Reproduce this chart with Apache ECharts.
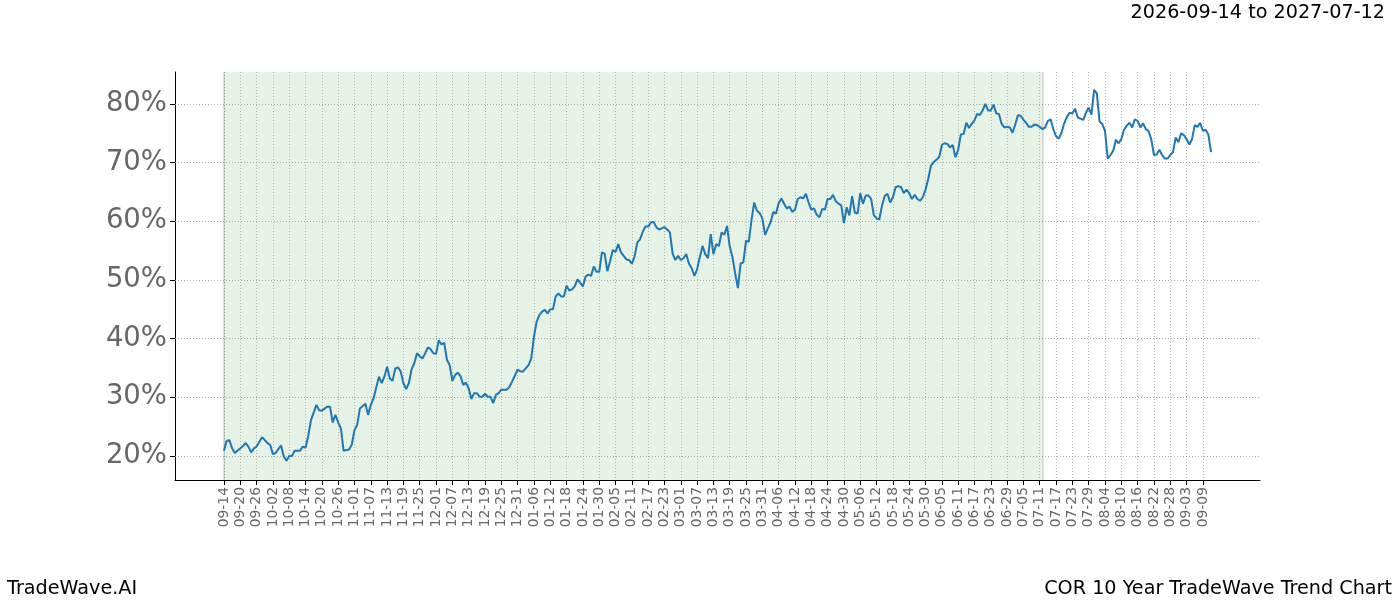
<!DOCTYPE html>
<html><head><meta charset="utf-8">
<script src="https://cdn.jsdelivr.net/npm/echarts@6/dist/echarts.min.js"></script>
<style>html,body{margin:0;padding:0;background:#fff}#c{width:1400px;height:600px}</style>
</head><body><div id="c"></div>
<script>
// ---- data ----
const startDate = '2026-09-14';
const shadeStart = '2026-09-14';
const shadeEnd = '2027-07-12';
const titleText = '2026-09-14 to 2027-07-12';
const footerLeft = 'TradeWave.AI';
const footerRight = 'COR 10 Year TradeWave Trend Chart';
const yTicks = [20, 30, 40, 50, 60, 70, 80];
// observation day offsets from startDate
const obsDay = [0,1,2,3,4,5,7,8,9,10,11,12,14,16,17,18,19,21,22,23,24,25,26,28,29,30,31,32,34,35,36,38,39,40,41,42,43,44,46,47,48,49,50,52,53,54,55,57,58,59,60,61,62,63,64,65,66,67,68,69,
70,71,72,73,74,75,76,77,78,79,80,81,82,83,84,85,86,87,88,89,90,91,92,93,94,95,96,97,98,99,100,101,102,104,105,106,108,109,110,112,113,114,115,116,117,118,119,120,121,122,123,124,125,126,127,128,129,130,131,132,133,134,135,136,137,138,139,
140,141,142,143,144,145,146,148,149,150,151,152,153,154,155,156,157,158,159,160,161,162,163,164,165,166,167,168,169,170,171,172,173,174,175,176,177,178,179,180,181,182,183,184,185,186,187,188,189,190,191,192,193,194,195,196,197,198,199,200,201,202,203,204,205,206,207,208,209,210,211,212,213,214,215,216,217,
218,219,220,221,222,223,224,225,226,227,228,229,230,231,232,233,234,235,236,237,238,239,240,241,242,243,244,245,246,247,248,249,250,251,252,253,254,255,256,257,258,259,260,261,262,263,264,265,266,267,268,269,270,271,272,273,274,275,276,277,278,279,280,281,282,283,284,285,
286,287,288,289,290,291,292,293,294,295,296,297,298,299,300,301,302,303,304,305,306,307,308,309,310,311,312,313,314,315,316,317,318,319,320,321,322,323,324,325,326,327,328,329,330,331,332,333,334,335,336,337,338,339,340,341,342,343,344,345,346,347,348,349,350,351,352,353,354,355,356,357,358,359,360,361,362,363];
// trend values in percent
const obsPct = [20.9,22.6,22.7,21.3,20.5,20.9,21.7,22.2,21.6,20.6,21.3,21.6,23.2,22.2,21.9,20.3,20.5,21.8,19.9,19.2,20.0,20.0,20.9,20.9,21.6,21.4,23.4,26.1,28.7,27.8,27.7,28.4,28.4,25.7,27.0,25.7,24.7,20.9,21.1,21.9,24.4,25.3,28.1,28.9,27.0,28.7,29.8,33.5,32.4,33.5,35.2,33.2,32.8,34.9,35.1,34.4,32.4,31.4,32.4,34.8,
35.8,37.5,37.0,36.6,37.5,38.5,38.2,37.5,37.4,39.7,39.0,39.3,36.4,35.5,32.8,33.8,34.2,33.6,32.1,32.5,31.5,29.7,30.7,30.7,30.1,30.1,30.6,30.1,30.1,29.0,30.4,30.7,31.3,31.3,31.8,32.7,34.7,34.4,34.4,35.5,36.6,40.3,42.9,44.0,44.6,44.9,44.3,45.0,45.0,47.2,47.7,47.2,47.2,49.0,48.2,48.4,48.9,50.1,49.5,48.9,50.6,50.9,50.7,52.3,51.4,51.4,54.7,
54.5,51.5,53.2,55.1,54.8,56.1,54.7,53.5,53.4,52.8,54.0,56.4,56.9,58.2,59.1,59.1,59.8,59.9,59.0,58.6,58.8,59.0,58.6,58.1,54.5,53.4,54.1,53.4,53.7,54.4,52.8,52.0,50.7,51.8,53.9,55.8,54.4,53.7,57.8,54.4,56.1,55.8,58.1,57.7,59.2,55.7,53.9,51.1,48.6,52.8,53.0,56.7,56.5,60.2,63.2,61.8,61.4,60.5,57.7,58.8,59.8,61.6,61.3,63.1,63.9,63.0,62.2,62.5,61.6,62.0,63.8,64.1,63.9,64.7,63.2,62.0,62.2,
61.1,60.7,62.1,62.0,63.8,63.8,64.5,63.4,63.0,62.7,59.7,62.4,61.0,64.3,61.5,61.3,64.8,63.0,64.4,64.4,63.8,61.0,60.5,60.3,62.7,64.3,64.7,63.2,64.1,65.8,66.0,65.8,64.8,65.4,64.8,63.8,64.5,63.8,63.5,64.1,65.4,67.2,69.5,70.1,70.5,70.9,73.0,73.3,73.2,72.6,73.0,70.9,72.2,74.8,74.9,76.8,75.9,76.6,77.2,78.3,78.1,78.9,80.0,78.9,78.9,79.9,78.4,78.3,
76.6,76.0,76.1,76.0,75.1,76.5,78.1,78.0,77.3,76.8,76.1,76.1,76.5,76.4,76.1,75.7,76.0,77.1,77.4,75.7,74.5,74.1,75.1,76.7,77.8,78.5,78.4,79.2,77.7,77.5,77.3,78.5,79.4,78.2,82.4,81.8,77.0,76.6,75.4,70.7,71.3,72.0,73.9,73.3,74.0,75.6,76.3,76.8,76.0,77.4,77.1,76.0,76.7,75.7,75.4,74.0,71.3,71.4,72.2,71.3,70.7,70.7,71.3,71.8,74.3,73.5,75.0,74.7,74.0,73.1,74.0,76.4,76.1,76.8,75.4,75.6,74.8,71.8];

// ---- build axis categories (calendar days) ----
const padDays = 18;
const lastDay = 363;
const labelStep = 6;
const labelLastDay = 360;
function dayToStr(d) {
  const t = Date.UTC(2026, 8, 14) + d * 86400000;
  const dt = new Date(t);
  const m = String(dt.getUTCMonth() + 1).padStart(2, '0');
  const dd = String(dt.getUTCDate()).padStart(2, '0');
  return dt.getUTCFullYear() + '-' + m + '-' + dd;
}
const categories = [];
for (let d = -padDays; d <= lastDay + padDays; d++) categories.push(dayToStr(d));
const seriesData = categories.map(() => null);
obsDay.forEach((d, i) => { seriesData[d + padDays] = obsPct[i]; });

function showTick(index) {
  const d = index - padDays;
  return d >= 0 && d <= labelLastDay && d % labelStep === 0;
}

const font = 'DejaVu Sans';
const chart = echarts.init(document.getElementById('c'));
chart.setOption({
  animation: false,
  backgroundColor: '#fff',
  title: [
    { text: titleText, right: 10, top: -1, textStyle: { fontFamily: font, fontSize: 19.2, fontWeight: 'normal', color: '#000' } },
    { text: footerLeft, left: 2, bottom: -4, textStyle: { fontFamily: font, fontSize: 19.2, fontWeight: 'normal', color: '#000' } },
    { text: footerRight, right: 3, bottom: -4, textStyle: { fontFamily: font, fontSize: 19.2, fontWeight: 'normal', color: '#000' } }
  ],
  grid: { left: 175, right: 140, top: 72, bottom: 120, containLabel: false },
  xAxis: {
    type: 'category',
    data: categories,
    boundaryGap: false,
    axisLine: { show: true, lineStyle: { color: '#000', width: 1 } },
    axisTick: { show: true, interval: (i) => showTick(i), length: 5, lineStyle: { color: '#000', width: 1 } },
    axisLabel: {
      interval: (i) => showTick(i), rotate: 90, margin: 7,
      formatter: (v) => v.slice(5),
      fontFamily: font, fontSize: 13.9, color: '#666'
    },
    splitLine: { show: true, interval: (i) => showTick(i), lineStyle: { color: '#aaa', width: 0.8, type: [1, 2] } }
  },
  yAxis: {
    type: 'value',
    min: 15.9, max: 85.45,
    axisLine: { show: true, lineStyle: { color: '#000', width: 1 } },
    axisTick: { show: true, customValues: yTicks, length: 5, lineStyle: { color: '#000', width: 1 } },
    axisLabel: { customValues: yTicks, formatter: (v) => v + '%', fontFamily: font, fontSize: 27.5, color: '#666', margin: 8, padding: [5, 0, 0, 0] },
    splitLine: { show: false }
  },
  series: [
    {
      name: 'bg', type: 'line', data: [], z: 1, silent: true,
      markArea: {
        silent: true,
        itemStyle: { color: 'rgba(0,128,0,0.1)' },
        data: [[{ xAxis: shadeStart }, { xAxis: shadeEnd }]]
      },
      markLine: {
        silent: true, symbol: 'none', label: { show: false },
        data: [
          ...yTicks.map(v => ({ yAxis: v, lineStyle: { color: '#999', width: 0.8, type: [1, 2] } })),
          { xAxis: shadeStart, lineStyle: { color: 'rgba(0,0,0,0.12)', width: 2, type: 'solid' } },
          { xAxis: shadeEnd, lineStyle: { color: 'rgba(0,0,0,0.12)', width: 2, type: 'solid' } }
        ]
      }
    },
    {
      name: 'trend', type: 'line', data: seriesData, connectNulls: true, z: 5,
      showSymbol: false, symbol: 'none',
      lineStyle: { color: '#1f77b4', width: 2 },
      itemStyle: { color: '#1f77b4' }
    }
  ]
});
</script></body></html>
